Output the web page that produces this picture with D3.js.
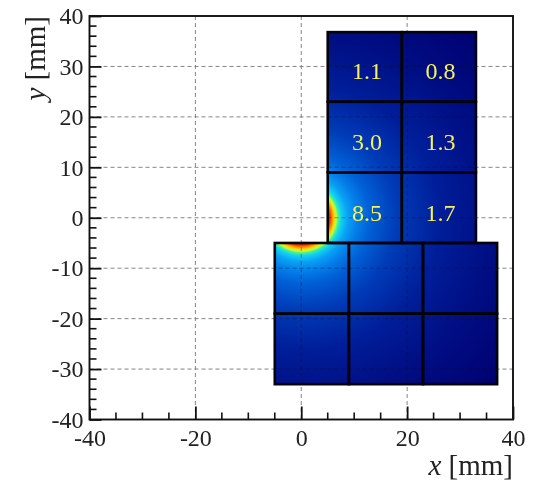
<!DOCTYPE html>
<html><head><meta charset="utf-8">
<script src="https://cdn.jsdelivr.net/npm/d3@7/dist/d3.min.js"></script>
<style>html,body{margin:0;padding:0;background:#fff}svg{display:block;filter:blur(0.35px)}text{font-family:"Liberation Serif",serif;fill:#222}</style>
</head><body><svg id="c" width="533" height="482"></svg>
<script>
// Crystal edges in mm
const upperXEdges = [5, 19, 33];
const upperYEdges = [-5, 9, 23, 36.8];
const lowerXEdges = [-5, 9, 23, 37];
const lowerYEdges = [-33, -19, -5];
// Cell label positions and texts
const cellColumnX = [12.4, 26.3];
const cellRowY = [29, 15, 1];
const cellLabels = [["1.1","0.8"],["3.0","1.3"],["8.5","1.7"]];
// Radial colour profile: distance from origin (mm) -> colour
const profileDist = [5.0, 5.4, 5.8, 6.2, 6.6, 7.0, 7.6, 8.8, 10.5, 13, 18, 26, 36, 50];
const profileColor = ["#b81000","#e83000","#ff8000","#ffd000","#c0ff30","#40f0a0","#10d0f0","#0aa0f4","#0480ea","#0060d6","#003cb8","#001e9a","#000e84","#000070"];
const xMajor = [-40,-20,0,20,40];
const xMinor = [-35,-30,-25,-15,-10,-5,5,10,15,25,30,35];
const yMajor = [-40,-30,-20,-10,0,10,20,30,40];
const yMinor = [-38,-36,-34,-32,-28,-26,-24,-22,-18,-16,-14,-12,-8,-6,-4,-2,2,4,6,8,12,14,16,18,22,24,26,28,32,34,36,38];
const xGrid = [-20,0,20];
const yGrid = [-30,-20,-10,0,10,20,30];

const L=89.5,R=513,T=16,B=419.5;
const x=d3.scaleLinear().domain([-40,40]).range([L,R]);
const y=d3.scaleLinear().domain([-40,40]).range([B,T]);
const svg=d3.select("#c");

const gridStyle=(s)=>s.attr("stroke","#777").attr("stroke-width",.9).attr("stroke-dasharray","4 3").attr("fill","none");
const grid=(g)=>{
  g.selectAll("line.v").data(xGrid).join("line").attr("class","v").attr("x1",d=>x(d)).attr("x2",d=>x(d)).attr("y1",T).attr("y2",B).call(gridStyle);
  g.selectAll("line.h").data(yGrid).join("line").attr("class","h").attr("y1",d=>y(d)).attr("y2",d=>y(d)).attr("x1",L).attr("x2",R).call(gridStyle);
};
svg.append("g").call(grid);

// field image
const color=d3.scaleLinear().domain(profileDist).range(profileColor).interpolate(d3.interpolateRgb).clamp(true);
const cv=document.createElement("canvas");cv.width=533;cv.height=482;
const ctx=cv.getContext("2d");
const blocks=[[upperXEdges,upperYEdges],[lowerXEdges,lowerYEdges]];
blocks.forEach(([xs,ys])=>{
  const px0=Math.round(x(xs[0])),px1=Math.round(x(xs[xs.length-1]));
  const py0=Math.round(y(ys[ys.length-1])),py1=Math.round(y(ys[0]));
  for(let px=px0;px<px1;px++)for(let py=py0;py<py1;py++){
    const mx=x.invert(px+.5),my=y.invert(py+.5);
    ctx.fillStyle=color(Math.hypot(mx,my));
    ctx.fillRect(px,py,1,1);
  }
});
svg.append("image").attr("x",0).attr("y",0).attr("width",533).attr("height",482).attr("href",cv.toDataURL());

// grid faintly over field, clipped to the blocks
const clip=svg.append("clipPath").attr("id","blk");
blocks.forEach(([xs,ys])=>clip.append("rect").attr("x",x(xs[0])).attr("y",y(ys[ys.length-1])).attr("width",x(xs[xs.length-1])-x(xs[0])).attr("height",y(ys[0])-y(ys[ys.length-1])));
svg.append("g").attr("opacity",.4).attr("clip-path","url(#blk)").call(grid).selectAll("line").attr("stroke","#111");

// crystal outlines
const cells=[];
blocks.forEach(([xs,ys])=>{
  for(let i=0;i<xs.length-1;i++)for(let j=0;j<ys.length-1;j++)cells.push({x0:xs[i],x1:xs[i+1],y0:ys[j],y1:ys[j+1]});
});
svg.append("g").selectAll("rect").data(cells).join("rect")
  .attr("x",d=>x(d.x0)).attr("y",d=>y(d.y1)).attr("width",d=>x(d.x1)-x(d.x0)).attr("height",d=>y(d.y0)-y(d.y1))
  .attr("fill","none").attr("stroke","#03030c").attr("stroke-width",2.6);

// cell labels
cellLabels.forEach((row,j)=>row.forEach((t,i)=>{
  svg.append("text").attr("x",x(cellColumnX[i])).attr("y",y(cellRowY[j])).attr("text-anchor","middle").attr("dominant-baseline","central")
    .attr("font-size",24).style("fill","#f4f45a").text(t);
}));

// axes
const fs=24;
const ax=svg.append("g").attr("transform",`translate(0,${B})`).call(d3.axisBottom(x).tickValues(xMajor).tickSize(-13).tickPadding(0).tickFormat(v=>String(v)));
const ay=svg.append("g").attr("transform",`translate(${L},0)`).call(d3.axisLeft(y).tickValues(yMajor).tickSize(-12).tickPadding(0).tickFormat(v=>String(v)));
ax.select(".domain").remove();ay.select(".domain").remove();
ax.selectAll("line").attr("stroke","#111").attr("stroke-width",1.8);
ay.selectAll("line").attr("stroke","#111").attr("stroke-width",1.8);
ax.selectAll("text").attr("font-size",fs).attr("y",9).attr("dy","0.71em");
ay.selectAll("text").attr("font-size",fs).attr("x",-6).attr("dy","0.32em");
svg.append("g").attr("transform",`translate(0,${B})`).selectAll("line").data(xMinor).join("line").attr("x1",d=>x(d)).attr("x2",d=>x(d)).attr("y1",0).attr("y2",-7).attr("stroke","#111").attr("stroke-width",1.6);
svg.append("g").attr("transform",`translate(${L},0)`).selectAll("line").data(yMinor).join("line").attr("y1",d=>y(d)).attr("y2",d=>y(d)).attr("x1",0).attr("x2",7).attr("stroke","#111").attr("stroke-width",1.6);

// frame
svg.append("rect").attr("x",L).attr("y",T).attr("width",R-L).attr("height",B-T).attr("fill","none").attr("stroke","#111").attr("stroke-width",1.9);

// titles
const xt=svg.append("text").attr("x",R).attr("y",475).attr("text-anchor","end").attr("font-size",29);
xt.append("tspan").attr("font-style","italic").text("x");xt.append("tspan").text(" [mm]");
const yt=svg.append("text").attr("transform",`translate(45,16) rotate(-90)`).attr("text-anchor","end").attr("font-size",29);
yt.append("tspan").attr("font-style","italic").text("y");yt.append("tspan").text(" [mm]");
</script></body></html>
